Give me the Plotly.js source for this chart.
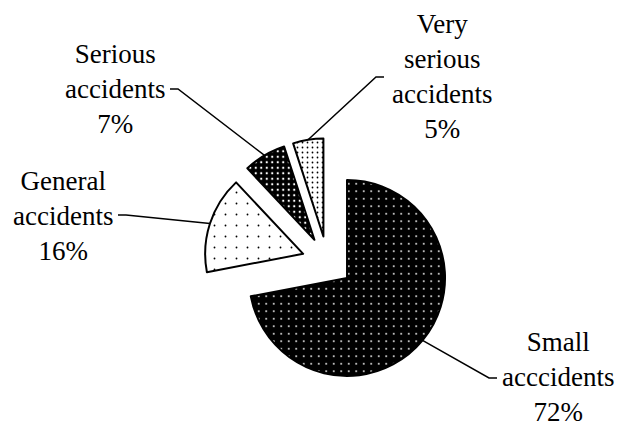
<!DOCTYPE html>
<html>
<head>
<meta charset="utf-8">
<script src="https://cdn.plot.ly/plotly-3.0.1.min.js"></script>
<style>html,body{margin:0;padding:0;background:#fff;}</style>
</head>
<body>
<div id="chart" style="width:619px;height:426px;"></div>
<script>
// ---- data ----
var categories = ["Small accidents", "General accidents", "Serious accidents", "Very serious accidents"];
var labelLines = [["Small", "acccidents"], ["General", "accidents"], ["Serious", "accidents"], ["Very", "serious", "accidents"]];
var percents = [72, 16, 7, 5];

// ---- styling / layout ----
var W = 619, H = 426;
var sliceColors = ["#000000", "#ffffff", "#000000", "#ffffff"];
var dotColors = ["#ffffff", "#000000", "#ffffff", "#000000"];
var dotSize = [7.5, 11, 5.5, 5];
var dotSolidity = [0.045, 0.022, 0.13, 0.1];
var pull = 0.26;
var centerPx = [327.4, 261.7];
var radiusPx = 98;
var half = radiusPx * (1 + pull);
var labelFont = "Liberation Serif";

// label centres (pixels) and leader-line text-side points (pixels)
var labelPos = [[558, 376.5], [63, 216], [115, 89], [442, 76.6]];
var leaderText = [
  [[497, 378], [489, 378]],
  [[118, 215], [126, 215]],
  [[170, 89], [178, 89]],
  [[384, 77], [376, 77]]
];

function px2paper(p) { return [p[0] / W, (H - p[1]) / H]; }

var trace = {
  type: "pie",
  labels: categories,
  values: percents,
  sort: false,
  direction: "clockwise",
  rotation: 0,
  pull: [pull, pull, pull, pull],
  textinfo: "none",
  hoverinfo: "skip",
  domain: {
    x: [(centerPx[0] - half) / W, (centerPx[0] + half) / W],
    y: [(H - centerPx[1] - half) / H, (H - centerPx[1] + half) / H]
  },
  marker: {
    colors: sliceColors,
    line: { color: "#000000", width: 2 },
    pattern: {
      shape: ".",
      fillmode: "replace",
      bgcolor: sliceColors,
      fgcolor: dotColors,
      size: dotSize,
      solidity: dotSolidity
    }
  },
  showlegend: false
};

var total = percents.reduce(function (a, b) { return a + b; }, 0);
var annotations = [];
var shapes = [];
var cum = 0;
for (var i = 0; i < percents.length; i++) {
  var theta = 2 * Math.PI * (cum + percents[i] / 2) / total;
  cum += percents[i];
  var rr = radiusPx * (1 + pull);
  var end = [centerPx[0] + rr * Math.sin(theta), centerPx[1] - rr * Math.cos(theta)];
  var pts = [leaderText[i][0], leaderText[i][1], end].map(px2paper);
  shapes.push({
    type: "path", xref: "paper", yref: "paper",
    path: "M" + pts[0][0] + "," + pts[0][1] + " L" + pts[1][0] + "," + pts[1][1] + " L" + pts[2][0] + "," + pts[2][1],
    line: { color: "#000000", width: 1.5 }
  });
  var lp = px2paper(labelPos[i]);
  annotations.push({
    xref: "paper", yref: "paper", x: lp[0], y: lp[1],
    xanchor: "center", yanchor: "middle", showarrow: false, align: "center",
    text: labelLines[i].join("<br>") + "<br>" + percents[i] + "%",
    font: { family: labelFont, size: 27, color: "#000000" }
  });
}

var layout = {
  width: W, height: H,
  margin: { l: 0, r: 0, t: 0, b: 0 },
  paper_bgcolor: "#ffffff",
  plot_bgcolor: "#ffffff",
  showlegend: false,
  annotations: annotations,
  shapes: shapes
};

Plotly.newPlot("chart", [trace], layout, { displayModeBar: false, staticPlot: true });
</script>
</body>
</html>
